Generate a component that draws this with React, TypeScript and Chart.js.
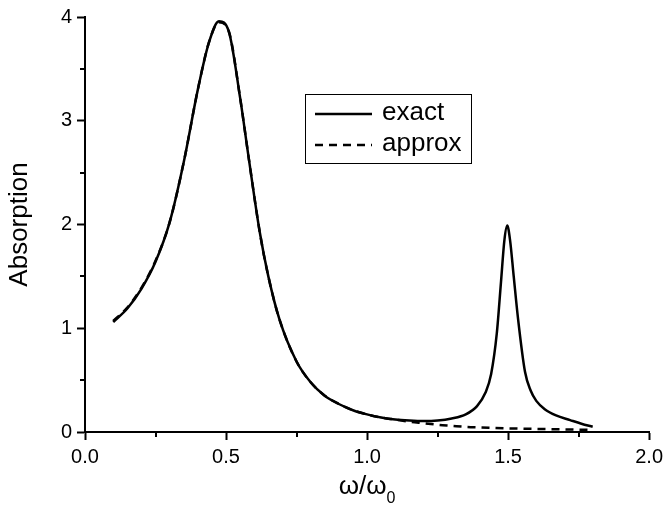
import React, { useEffect, useRef } from "react";
import { Chart, registerables } from "chart.js";

Chart.register(...registerables);

// ω/ω0 values and absorption
const exactX = [0.10, 0.15, 0.20, 0.25, 0.30, 0.35, 0.40, 0.44, 0.475, 0.51, 0.55, 0.58, 0.62, 0.65, 0.69, 0.75, 0.80, 0.85, 0.90, 0.95, 1.00, 1.05, 1.10, 1.15, 1.20, 1.25, 1.30, 1.35, 1.39, 1.42, 1.44, 1.46, 1.475, 1.487, 1.497, 1.507, 1.52, 1.535, 1.56, 1.58, 1.60, 1.63, 1.67, 1.72, 1.76, 1.80];
const exactY = [1.06, 1.19, 1.38, 1.64, 2.02, 2.60, 3.30, 3.76, 3.96, 3.86, 3.22, 2.65, 1.92, 1.50, 1.08, 0.68, 0.48, 0.35, 0.27, 0.21, 0.17, 0.14, 0.12, 0.11, 0.105, 0.11, 0.13, 0.17, 0.25, 0.38, 0.56, 0.95, 1.45, 1.85, 1.99, 1.85, 1.50, 1.10, 0.58, 0.40, 0.30, 0.22, 0.16, 0.115, 0.08, 0.05];

const approxX = [0.10, 0.15, 0.20, 0.25, 0.30, 0.35, 0.40, 0.44, 0.475, 0.51, 0.55, 0.58, 0.62, 0.65, 0.69, 0.75, 0.80, 0.85, 0.90, 0.95, 1.00, 1.05, 1.10, 1.15, 1.20, 1.25, 1.30, 1.35, 1.40, 1.50, 1.60, 1.70, 1.80];
const approxY = [1.07, 1.20, 1.39, 1.65, 2.02, 2.60, 3.30, 3.76, 3.95, 3.86, 3.22, 2.65, 1.92, 1.50, 1.08, 0.68, 0.48, 0.35, 0.27, 0.21, 0.17, 0.14, 0.12, 0.10, 0.085, 0.07, 0.06, 0.05, 0.045, 0.035, 0.03, 0.025, 0.02];

const xTicks = [0, 0.5, 1.0, 1.5, 2.0];
const xMinorTicks = [0.25, 0.75, 1.25, 1.75];
const yTicks = [0, 1, 2, 3, 4];
const yMinorTicks = [0.5, 1.5, 2.5, 3.5];

const seriesLabels = ["exact", "approx"];
const xTitle = "ω/ω";
const xTitleSub = "0";
const yTitle = "Absorption";

const FONT = "'Liberation Sans', Arial, Helvetica, sans-serif";

const decorPlugin = {
  id: "decor",
  afterDraw(chart: any) {
    const { ctx, chartArea, scales } = chart;
    const xs = scales.x;
    const ys = scales.y;
    ctx.save();
    ctx.strokeStyle = "#000";
    ctx.lineWidth = 2;
    // minor ticks
    xMinorTicks.forEach((v) => {
      const px = Math.round(xs.getPixelForValue(v));
      ctx.beginPath();
      ctx.moveTo(px, chartArea.bottom);
      ctx.lineTo(px, chartArea.bottom + 5);
      ctx.stroke();
    });
    yMinorTicks.forEach((v) => {
      const py = Math.round(ys.getPixelForValue(v));
      ctx.beginPath();
      ctx.moveTo(chartArea.left - 5, py);
      ctx.lineTo(chartArea.left, py);
      ctx.stroke();
    });

    // axis titles
    ctx.fillStyle = "#000";
    ctx.font = `26px ${FONT}`;
    ctx.textBaseline = "alphabetic";
    const mainW = ctx.measureText(xTitle).width;
    ctx.font = `16px ${FONT}`;
    const subW = ctx.measureText(xTitleSub).width;
    const cx = (chartArea.left + chartArea.right) / 2;
    const startX = cx - (mainW + subW) / 2;
    ctx.font = `26px ${FONT}`;
    ctx.textAlign = "left";
    ctx.fillText(xTitle, startX, 494);
    ctx.font = `16px ${FONT}`;
    ctx.fillText(xTitleSub, startX + mainW, 503);

    ctx.save();
    ctx.translate(20, (chartArea.top + chartArea.bottom) / 2);
    ctx.rotate(-Math.PI / 2);
    ctx.font = `26px ${FONT}`;
    ctx.textAlign = "center";
    ctx.textBaseline = "middle";
    ctx.fillText(yTitle, 0, 0);
    ctx.restore();

    // legend
    ctx.lineWidth = 1;
    ctx.strokeRect(305.5, 94.5, 166, 69);
    ctx.lineWidth = 2.5;
    ctx.beginPath();
    ctx.moveTo(315, 114);
    ctx.lineTo(372, 114);
    ctx.stroke();
    ctx.setLineDash([8, 6]);
    ctx.beginPath();
    ctx.moveTo(315, 145);
    ctx.lineTo(372, 145);
    ctx.stroke();
    ctx.setLineDash([]);
    ctx.font = `26px ${FONT}`;
    ctx.textAlign = "left";
    ctx.textBaseline = "middle";
    ctx.fillText(seriesLabels[0], 382, 113);
    ctx.fillText(seriesLabels[1], 382, 144);
    ctx.restore();
  },
};

export default function App() {
  const ref = useRef<HTMLCanvasElement>(null);
  useEffect(() => {
    if (!ref.current) return;
    const chart = new Chart(ref.current, {
      type: "line",
      data: {
        datasets: [
          {
            label: seriesLabels[0],
            data: exactX.map((x, i) => ({ x, y: exactY[i] })),
            borderColor: "#000",
            borderWidth: 2.5,
            pointRadius: 0,
            cubicInterpolationMode: "monotone",
            fill: false,
          },
          {
            label: seriesLabels[1],
            data: approxX.map((x, i) => ({ x, y: approxY[i] })),
            borderColor: "#000",
            borderWidth: 2.5,
            borderDash: [8, 6],
            pointRadius: 0,
            cubicInterpolationMode: "monotone",
            fill: false,
          },
        ],
      },
      options: {
        responsive: false,
        animation: false,
        devicePixelRatio: 1,
        layout: { padding: { top: 15, right: 15, left: 0, bottom: 0 } },
        plugins: { legend: { display: false }, tooltip: { enabled: false } },
        scales: {
          x: {
            type: "linear",
            min: 0,
            max: 2,
            afterBuildTicks: (s: any) => {
              s.ticks = xTicks.map((v) => ({ value: v }));
            },
            afterFit: (s: any) => {
              s.height = 76;
            },
            ticks: {
              callback: (v: any) => Number(v).toFixed(1),
              color: "#000",
              font: { size: 20, family: FONT },
              padding: 5,
              maxRotation: 0,
            },
            grid: {
              drawOnChartArea: false,
              drawTicks: true,
              tickLength: 8,
              tickWidth: 2,
              tickColor: "#000",
              color: "#000",
            },
            border: { display: true, color: "#000", width: 2 },
          },
          y: {
            type: "linear",
            min: 0,
            max: 4,
            afterBuildTicks: (s: any) => {
              s.ticks = yTicks.map((v) => ({ value: v }));
            },
            afterFit: (s: any) => {
              s.width = 85;
            },
            ticks: {
              callback: (v: any) => String(v),
              color: "#000",
              font: { size: 20, family: FONT },
              padding: 5,
            },
            grid: {
              drawOnChartArea: false,
              drawTicks: true,
              tickLength: 8,
              tickWidth: 2,
              tickColor: "#000",
              color: "#000",
            },
            border: { display: true, color: "#000", width: 2 },
          },
        },
      },
      plugins: [decorPlugin],
    } as any);
    return () => chart.destroy();
  }, []);
  return (
    <div style={{ position: "absolute", left: 0, top: 0, width: 668, height: 508, background: "#fff" }}>
      <canvas ref={ref} width={668} height={508} />
    </div>
  );
}
